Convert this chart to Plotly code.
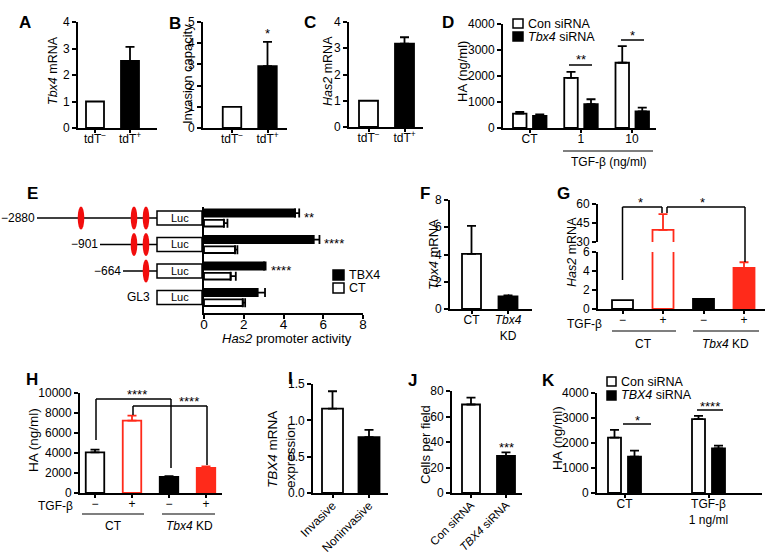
import plotly.graph_objects as go

W, H = 776, 554
FONT = "Liberation Sans, Arial, Helvetica, sans-serif"
LW = 1.8
RED = "#ff2a1a"


def X(p):
    return p / W


def Y(p):
    return 1 - p / H


# ---------------- data ----------------
A_cats = ["tdT<sup>−</sup>", "tdT<sup>+</sup>"]
A_vals = [1.0, 2.53]
A_errs = [None, 0.53]

B_cats = ["tdT<sup>−</sup>", "tdT<sup>+</sup>"]
B_vals = [1.0, 2.92]
B_errs = [None, 1.14]

C_cats = ["tdT<sup>−</sup>", "tdT<sup>+</sup>"]
C_vals = [1.0, 3.18]
C_errs = [None, 0.24]

D_cats = ["CT", "1", "10"]
D_series = ["Con siRNA", "<i>Tbx4</i> siRNA"]
D_con = [553, 1930, 2510]
D_con_err = [64, 230, 640]
D_kd = [463, 913, 643]
D_kd_err = [64, 193, 142]
D_sig = ["", "**", "*"]

E_constructs = ["−2880", "−901", "−664", "GL3"]
E_sites = [3, 2, 1, 0]
E_series = ["TBX4", "CT"]
E_tbx4 = [4.58, 5.51, 3.02, 2.69]
E_tbx4_err = [0.21, 0.30, 0.08, 0.38]
E_ct = [1.00, 1.56, 1.34, 1.95]
E_ct_err = [0.18, 0.12, 0.26, 0.12]
E_sig = ["**", "****", "****", ""]

F_cats = ["CT", "<i>Tbx4</i><br>KD"]
F_vals = [4.05, 0.93]
F_errs = [2.05, 0.07]

G_tgf = ["−", "+", "−", "+"]
G_groups = ["CT", "<i>Tbx4</i> KD"]
G_vals = [0.93, 39.5, 1.07, 4.32]
G_errs = [None, 12.5, None, 0.6]

H_tgf = ["−", "+", "−", "+"]
H_groups = ["CT", "<i>Tbx4</i> KD"]
H_vals = [4070, 7230, 1600, 2500]
H_errs = [260, 500, 80, 170]

I_cats = ["Invasive", "Noninvasive"]
I_vals = [1.16, 0.77]
I_errs = [0.24, 0.10]

J_cats = ["Con siRNA", "<i>TBX4</i> siRNA"]
J_vals = [69.4, 29.1]
J_errs = [5.4, 2.8]

K_cats = ["CT", "TGF-β<br>1 ng/ml"]
K_series = ["Con siRNA", "<i>TBX4</i> siRNA"]
K_con = [2215, 2953]
K_con_err = [308, 134]
K_kd = [1450, 1785]
K_kd_err = [241, 108]
K_sig = ["*", "****"]

# ---------------- styles ----------------
WB_FILL = ["white", "black"]
GH_FILL = ["white", "white", "black", RED]
GH_LINE = ["black", RED, "black", RED]

fig = go.Figure()
layout = {}
shapes = []
annots = []
n_ax = [0]

BASE = dict(showline=True, linecolor="black", linewidth=LW, ticks="outside",
            ticklen=4, tickwidth=LW, tickcolor="black", showgrid=False,
            zeroline=False, fixedrange=True, automargin=False,
            tickfont=dict(family=FONT, size=12, color="black"))
XSTAND = dict(ticklabelstandoff=-4, ticklen=3)


def axes(xpx, ypx, xcfg, ycfg):
    n_ax[0] += 1
    s = "" if n_ax[0] == 1 else str(n_ax[0])
    layout["xaxis" + s] = {**BASE, **XSTAND, **xcfg, "domain": [X(xpx[0]), X(xpx[1])], "anchor": "y" + s}
    layout["yaxis" + s] = {**BASE, **ycfg, "domain": [Y(ypx[1]), Y(ypx[0])], "anchor": "x" + s}
    return "x" + s, "y" + s


def cat_x(x0, x1, c0, sp, labels, **kw):
    return dict(range=[-(c0 - x0) / sp, (x1 - c0) / sp],
                tickvals=list(range(len(labels))), ticktext=labels, **kw)


def bar(xa, ya, pos, val, err, fill, line, width, offset=None, orient="v", errcolor="black"):
    eb = dict(type="data", array=[err], arrayminus=[0], symmetric=False,
              color=errcolor, thickness=LW, width=4.5, visible=err is not None)
    kw = dict(width=[width], orientation=orient,
              marker=dict(color=fill, line=dict(color=line, width=LW)),
              xaxis=xa, yaxis=ya, showlegend=False, hoverinfo="skip")
    if offset is not None:
        kw["offset"] = [offset]
    if orient == "v":
        fig.add_trace(go.Bar(x=[pos], y=[val], error_y=eb, **kw))
    else:
        fig.add_trace(go.Bar(x=[val], y=[pos], error_x=eb, **kw))


def ann(x, y, text, size=12.5, xanchor="center", yanchor="middle", angle=0, align="center"):
    annots.append(dict(x=X(x), y=Y(y), xref="paper", yref="paper", text=text,
                       showarrow=False, xanchor=xanchor, yanchor=yanchor, align=align,
                       textangle=angle, font=dict(family=FONT, size=size, color="black")))


def letter(x, y, t):
    ann(x, y, "<b>%s</b>" % t, size=17)


def line(x0, y0, x1, y1, color="black", w=1.5):
    shapes.append(dict(type="line", xref="paper", yref="paper", x0=X(x0), y0=Y(y0),
                       x1=X(x1), y1=Y(y1), line=dict(color=color, width=w)))


def rect(x0, y0, x1, y1, fill, w=1.5):
    shapes.append(dict(type="rect", xref="paper", yref="paper", x0=X(x0), y0=Y(y0),
                       x1=X(x1), y1=Y(y1), fillcolor=fill, line=dict(color="black", width=w)))


def star(x, y, t):
    ann(x, y + 1, t, size=13)


def simple(xpx, ypx, c0, sp, wpx, cats, vals, errs, fills, lines, ycfg, xextra=None,
           errcolors=None):
    xa, ya = axes(xpx, ypx, cat_x(xpx[0], xpx[1], c0, sp, cats, **(xextra or {})), ycfg)
    for i, (v, e) in enumerate(zip(vals, errs)):
        bar(xa, ya, i, v, e, fills[i], lines[i], wpx / sp,
            errcolor=(errcolors[i] if errcolors else "black"))
    return xa, ya


# ---------------- panel A ----------------
simple((78, 157), (22, 128), 95, 35, 18, A_cats, A_vals, A_errs, WB_FILL, ["black"] * 2,
       dict(range=[0, 4], dtick=1))
letter(25, 22, "A")
ann(53, 70, "<i>Tbx4</i> mRNA", size=12.5, angle=-90)

# ---------------- panel B ----------------
simple((203, 287), (22, 128), 232, 35.5, 18.5, B_cats, B_vals, B_errs, WB_FILL, ["black"] * 2,
       dict(range=[0, 5], dtick=1))
letter(175, 23, "B")
ann(187, 74, "Invasion capacity", size=13, angle=-90)
star(267, 33, "*")

# ---------------- panel C ----------------
simple((349, 423), (22, 127), 368.5, 36, 19, C_cats, C_vals, C_errs, WB_FILL, ["black"] * 2,
       dict(range=[0, 4], dtick=1))
letter(310, 22, "C")
ann(328, 71, "<i>Has2</i> mRNA", size=12.5, angle=-90)

# ---------------- panel D ----------------
xa, ya = axes((503, 656), (24, 128), cat_x(503, 656, 529.5, 51.25, D_cats),
              dict(range=[0, 4000], dtick=1000, tickformat="d"))
for i in range(len(D_cats)):
    bar(xa, ya, i, D_con[i], D_con_err[i], "white", "black", 13.5 / 51.25, offset=-16.5 / 51.25)
    bar(xa, ya, i, D_kd[i], D_kd_err[i], "black", "black", 13.5 / 51.25, offset=3.5 / 51.25)
letter(448, 22, "D")
ann(463, 72, "HA (ng/ml)", size=13, angle=-90)
line(569, 65, 592, 65)
star(580.5, 59, D_sig[1])
line(621, 40, 644, 40)
star(632.5, 34, D_sig[2])
line(563, 151, 653, 151, w=1.2)
ann(609, 162, "TGF-β (ng/ml)", size=12)
rect(513, 19, 523, 28, "white")
rect(513, 32, 523, 41, "black")
ann(526, 23.5, D_series[0], size=12.5, xanchor="left")
ann(526, 36.5, D_series[1], size=12.5, xanchor="left")

# ---------------- panel E ----------------
E_top, E_bot, E_r0, E_r1 = 207, 313, -0.415, 3.585
E_sp = (E_bot - E_top) / (E_r1 - E_r0)
xa, ya = axes((204, 363), (E_top, E_bot),
              dict(range=[0, 8], dtick=2, ticklabelstandoff=-6, ticklen=4,
                   tickfont=dict(family=FONT, size=13.5, color="black")),
              dict(range=[E_r1, E_r0], showticklabels=False, ticks=""))
for i in range(len(E_constructs)):
    bar(xa, ya, i, E_tbx4[i], E_tbx4_err[i], "black", "black", 0.27, offset=-0.32, orient="h")
    bar(xa, ya, i, E_ct[i], E_ct_err[i], "white", "black", 0.25, offset=0.07, orient="h")
    if E_sig[i]:
        annots.append(dict(x=E_tbx4[i] + E_tbx4_err[i], y=i - 0.32 + 0.135 + 0.15, xref=xa, yref=ya,
                           text=E_sig[i], showarrow=False, xanchor="left", yanchor="middle",
                           xshift=3, font=dict(family=FONT, size=13, color="black")))
letter(32, 193, "E")
ann(287, 338.5, "<i>Has2</i> promoter activity", size=13)
SITE_X = [81, 134, 146]
LABEL_R = [37, 100, 123, 152]
for i, name in enumerate(E_constructs):
    cy = E_top + (i - E_r0) * E_sp
    n = E_sites[i]
    if n > 0:
        line(LABEL_R[i], cy, 157, cy, w=1.3)
        for sx in SITE_X[len(SITE_X) - n:]:
            shapes.append(dict(type="circle", xref="paper", yref="paper",
                               x0=X(sx - 3.3), x1=X(sx + 3.3), y0=Y(cy - 11.5), y1=Y(cy + 11.5),
                               fillcolor="#f20d0d", line=dict(width=0)))
    rect(157, cy - 7, 202, cy + 7, "white", w=1.5)
    ann(179.5, cy, "Luc", size=11)
    ann(LABEL_R[i], cy, name, size=12, xanchor="right")
rect(333, 270, 344, 280, "black")
rect(333, 283, 344, 293, "white")
ann(347, 275, E_series[0], size=12.5, xanchor="left")
ann(347, 288, E_series[1], size=12.5, xanchor="left")

# ---------------- panel F ----------------
simple((450, 532), (200, 309), 471.5, 36.5, 19, F_cats, F_vals, F_errs, WB_FILL, ["black"] * 2,
       dict(range=[0, 8], dtick=2))
letter(425, 193, "F")
ann(433, 255, "<i>Tbx4</i> mRNA", size=13, angle=-90)
star(508, 297, "*")

# ---------------- panel G ----------------
gx = cat_x(598, 765, 622.5, 40.5, G_tgf)
xa, ya = axes((598, 765), (252, 309), gx, dict(range=[0, 6], dtick=2))
for i, v in enumerate(G_vals):
    e = G_errs[i] if v + (G_errs[i] or 0) <= 6 else None
    bar(xa, ya, i, v, e, GH_FILL[i], GH_LINE[i], 21 / 40.5, errcolor=GH_LINE[i])
xa2, ya2 = axes((598, 765), (204, 242), dict(gx, visible=False), dict(range=[30, 60], dtick=15))
for i, v in enumerate(G_vals):
    if v > 30:
        bar(xa2, ya2, i, v, G_errs[i], GH_FILL[i], GH_LINE[i], 21 / 40.5, errcolor=GH_LINE[i])
letter(563, 193, "G")
ann(572, 252, "<i>Has2</i> mRNA", size=12.5, angle=-90)
ann(604, 324, "TGF-β", size=12, xanchor="right")
line(612, 331, 676, 331, w=1.2)
line(693, 331, 759, 331, w=1.2)
ann(643, 344, G_groups[0], size=12)
ann(725, 344, G_groups[1], size=12)
# brackets
line(622.5, 280, 622.5, 207)
line(622.5, 207, 662, 207)
line(662, 207, 662, 213)
line(667, 213, 667, 207)
line(667, 207, 745, 207)
line(745, 207, 745, 262)
star(640, 201, "*")
star(702, 201, "*")

# ---------------- panel H ----------------
simple((80, 222), (393, 493), 95, 37, 18.5, H_tgf, H_vals, H_errs, GH_FILL, GH_LINE,
       dict(range=[0, 10000], dtick=2000, tickformat="d"), errcolors=GH_LINE)
letter(32, 379, "H")
ann(33, 440, "HA (ng/ml)", size=13.5, angle=-90)
ann(75, 506, "TGF-β", size=12, xanchor="right")
line(82, 514, 144, 514, w=1.2)
line(162, 514, 215, 514, w=1.2)
ann(113, 526, H_groups[0], size=12)
ann(189, 526, H_groups[1], size=12)
line(96, 440, 96, 399)
line(96, 399, 171, 399)
line(171, 399, 171, 468)
line(133, 415, 133, 406)
line(133, 406, 207, 406)
line(207, 406, 207, 465)
star(137, 393, "****")
star(189, 400, "****")

# ---------------- panel I ----------------
simple((313, 388), (384, 493), 332.5, 36.5, 21, I_cats, I_vals, I_errs, WB_FILL, ["black"] * 2,
       dict(range=[0, 1.5], dtick=0.5, tickformat=".1f"), xextra=dict(tickangle=-45))
letter(290, 378, "I")
ann(281, 450, "<i>TBX4</i> mRNA<br>expression", size=13.5, angle=-90, align="left")
star(368, 442, "*")

# ---------------- panel J ----------------
simple((452, 522), (391, 493), 471, 35, 18, J_cats, J_vals, J_errs, WB_FILL, ["black"] * 2,
       dict(range=[0, 80], dtick=20), xextra=dict(tickangle=-45, tickfont=dict(family=FONT, size=11.5, color="black")))
letter(412, 380, "J")
ann(425, 445, "Cells per field", size=13, angle=-90)
star(506, 446, "***")

# ---------------- panel K ----------------
xa, ya = axes((597, 762), (393, 493), cat_x(597, 762, 624.5, 84, K_cats),
              dict(range=[0, 4000], dtick=1000, tickformat="d"))
for i in range(len(K_cats)):
    bar(xa, ya, i, K_con[i], K_con_err[i], "white", "black", 13 / 84, offset=-16.5 / 84)
    bar(xa, ya, i, K_kd[i], K_kd_err[i], "black", "black", 13 / 84, offset=3.5 / 84)
letter(548, 380, "K")
ann(557, 438, "HA (ng/ml)", size=13.5, angle=-90)
line(623, 424, 651, 424)
star(637, 419, K_sig[0])
line(697, 410, 723, 410)
star(710, 405, K_sig[1])
rect(607, 377, 616, 386, "white")
rect(607, 391, 616, 400, "black")
ann(619, 381.5, K_series[0], size=12.5, xanchor="left")
ann(619, 395, K_series[1], size=12.5, xanchor="left")

fig.update_layout(
    **layout,
    width=W, height=H, autosize=False,
    margin=dict(l=0, r=0, t=0, b=0),
    paper_bgcolor="white", plot_bgcolor="rgba(0,0,0,0)",
    barmode="overlay", showlegend=False,
    font=dict(family=FONT, size=12, color="black"),
    shapes=shapes, annotations=annots,
)
fig.write_html("out.html", config={"displayModeBar": False},
               post_script="document.body.style.margin='0px';document.body.style.overflow='hidden';")
